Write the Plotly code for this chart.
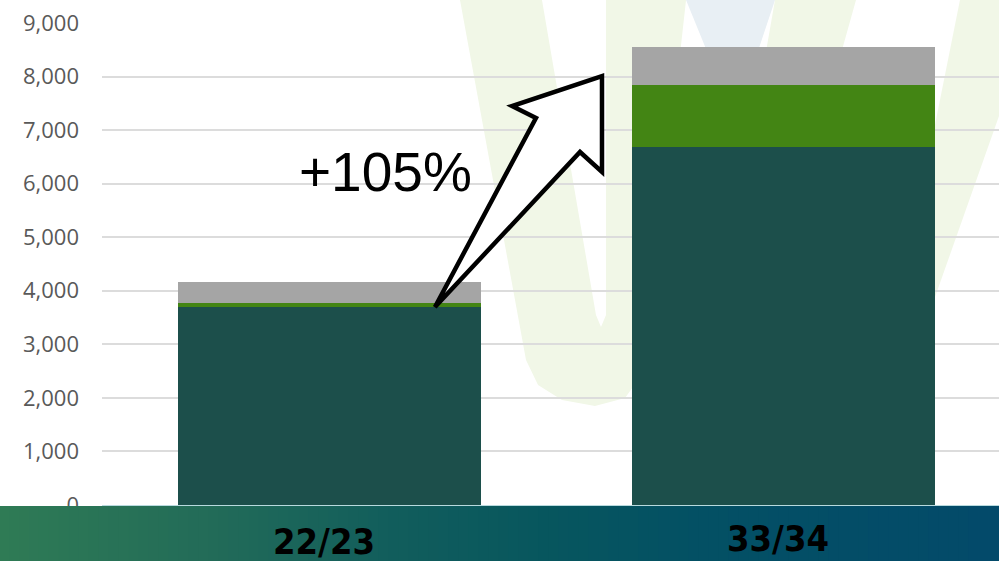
import plotly.graph_objects as go

# data
years = ["22/23", "33/34"]
core_vals = [3690, 6690]
green_vals = [75, 1150]
grey_vals = [405, 705]
growth_label = "+105%"

bar_colors = ["#1c4f4b", "#438514", "#a5a5a5"]

# plot box in pixels (used for decoration placement)
W, H = 999, 561
L, R, T, B = 102, 999, 23, 505


def to_paper(x, y):
    return (x - L) / (R - L), (B - y) / (B - T)


def path_from(points, closed=True):
    parts = []
    for i, (x, y) in enumerate(points):
        px, py = to_paper(x, y)
        parts.append(("M" if i == 0 else "L") + f"{px:.4f},{py:.4f}")
    return " ".join(parts) + (" Z" if closed else "")


fig = go.Figure()

for name, vals, col in zip(["core", "green", "other"],
                           [core_vals, green_vals, grey_vals], bar_colors):
    fig.add_trace(go.Bar(x=years, y=vals, name=name, marker_color=col,
                         marker_line_width=0))

shapes = []

# faint logo in the background
logo_green = "#f1f7e7"
shapes.append(dict(type="path", xref="paper", yref="paper", layer="below",
                   path=path_from([(460, 0), (542, 0), (596, 315), (601, 327),
                                   (606, 315), (606, 0), (686, 0), (645, 370),
                                   (625, 398), (595, 406), (562, 400),
                                   (538, 385), (526, 360)]),
                   fillcolor=logo_green, line_width=0))
shapes.append(dict(type="path", xref="paper", yref="paper", layer="below",
                   path=path_from([(686, 0), (775, 0), (735, 120)]),
                   fillcolor="#e8eff4", line_width=0))
shapes.append(dict(type="path", xref="paper", yref="paper", layer="below",
                   path=path_from([(775, 0), (856, 0), (800, 200), (740, 200)]),
                   fillcolor=logo_green, line_width=0))
shapes.append(dict(type="path", xref="paper", yref="paper", layer="below",
                   path=path_from([(960, 0), (1040, 0), (934, 300), (900, 300)]),
                   fillcolor=logo_green, line_width=0))

# gradient band along the bottom
stops = [(0.0, (47, 123, 85)), (0.2, (35, 108, 88)), (0.4, (17, 93, 92)),
         (0.55, (7, 86, 94)), (0.7, (3, 80, 100)), (1.0, (3, 74, 106))]


def band_color(t):
    for (t0, c0), (t1, c1) in zip(stops[:-1], stops[1:]):
        if t0 <= t <= t1:
            f = (t - t0) / (t1 - t0)
            return "rgb(%d,%d,%d)" % tuple(round(a + (b - a) * f) for a, b in zip(c0, c1))
    return "rgb(%d,%d,%d)" % stops[-1][1]


n = 100
for i in range(n):
    x0 = i * W / n - 1
    x1 = (i + 1) * W / n + 1
    p0 = to_paper(x0, 506)
    p1 = to_paper(x1, H + 2)
    shapes.append(dict(type="rect", xref="paper", yref="paper", layer="above",
                       x0=p0[0], x1=p1[0], y0=p0[1], y1=p1[1],
                       fillcolor=band_color((i + 0.5) / n), line_width=0))

# hollow block arrow
shapes.append(dict(type="path", xref="paper", yref="paper", layer="above",
                   path=path_from([(435, 307), (536, 118), (512, 106), (602, 76),
                                   (602, 172), (580, 152)]),
                   fillcolor="white", line=dict(color="black", width=4.5)))

annotations = [
    dict(text=growth_label, xref="paper", yref="paper",
         x=to_paper(385, 0)[0], y=to_paper(0, 172)[1],
         showarrow=False, xanchor="center", yanchor="middle",
         font=dict(family="Liberation Sans, Arial", size=55, color="black"))
]
label_y = [541, 538]
for yr, ly in zip(years, label_y):
    annotations.append(dict(text="<b>" + yr + "</b>", x=yr, xref="x",
                            yref="paper", y=to_paper(0, ly)[1],
                            xshift=-5, showarrow=False, yanchor="middle",
                            font=dict(family="DejaVu Sans Condensed",
                                      size=36, color="black")))

fig.update_layout(
    barmode="stack",
    bargap=0.333,
    width=W, height=H, autosize=False,
    margin=dict(l=L, r=W - R, t=T, b=H - B, pad=0),
    paper_bgcolor="white",
    plot_bgcolor="rgba(0,0,0,0)",
    showlegend=False,
    shapes=shapes,
    annotations=annotations,
    xaxis=dict(type="category", range=[-0.5, 1.4747], showticklabels=False,
               showgrid=False, zeroline=False, showline=True,
               linecolor="#b8dade", linewidth=2),
    yaxis=dict(range=[0, 9000], dtick=1000, tickformat=",", ticks="",
               showgrid=True, gridcolor="#dcdcdc", gridwidth=1.5,
               zeroline=False, ticklabelstandoff=22,
               tickfont=dict(family="Open Sans", size=22, color="#595959")),
)

fig.write_html("out.html", config={"displayModeBar": False},
               post_script="document.body.style.margin='0';")
